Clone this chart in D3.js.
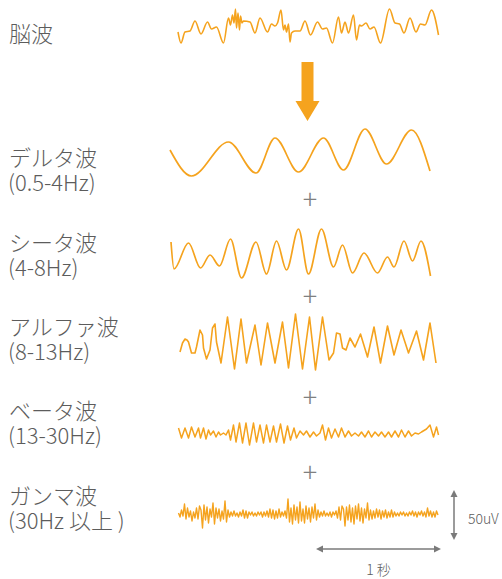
<!DOCTYPE html>
<html><head><meta charset="utf-8">
<script src="https://cdn.jsdelivr.net/npm/d3@7"></script>
<style>body{margin:0;background:#fff}</style>
</head><body>
<svg id="c" width="502" height="579"></svg>
<script>
// ---------------- DATA ----------------
const SAMPLE_RATE = 250; // samples per second; wave points are [sampleIndex, microvolts]
const brainWave = [[16,-5],[22,-16],[30,-5],[40,-4],[50,6],[62,-7],[75,5],[83,-2],[93,0],[107,-16],[117,9],[121,2],[125,12],[128,4],[131,18],[133,-1],[136,14],[139,-3],[141,11],[144,4],[147,6],[160,5],[170,-6],[180,9],[195,-5],[203,3],[210,1],[215,4],[222,17],[227,-3],[230,2],[233,-5],[237,3],[240,-15],[243,-6],[250,-4],[260,-4],[270,6],[281,-8],[295,5],[305,-2],[313,-1],[325,-16],[337,10],[343,-6],[350,5],[357,-6],[367,12],[373,-13],[379,2],[383,1],[392,4],[400,-2],[408,0],[421,-16],[439,18],[450,4],[459,3],[468,-6],[480,9],[492,-5],[501,3],[510,2],[523,17],[537,-8]];
const deltaWave = [[0,3],[43,-23],[117,11],[172,-20],[210,15],[257,-19],[307,15],[347,-17],[390,24],[433,-11],[483,23],[520,-18]];
const thetaWave = [[2,14],[8,-13],[37,13],[61,-12],[80,1],[99,-10],[121,17],[143,-22],[172,14],[193,-18],[213,15],[233,-14],[257,27],[277,-18],[303,27],[327,-11],[345,11],[365,-17],[388,3],[415,-17],[435,-1],[448,-11],[468,15],[485,-5],[502,15],[521,-20]];
const alphaWave = [[20,-9],[25,0],[30,4],[34,3],[37,1],[43,-10],[50,-10],[53,-4],[60,13],[65,8],[67,-5],[73,-16],[80,-7],[85,15],[90,19],[93,1],[102,-20],[115,26],[129,-26],[142,24],[153,-20],[170,18],[182,-22],[195,20],[210,-20],[225,21],[237,-25],[251,29],[265,-26],[279,26],[291,-27],[305,26],[318,-17],[327,-10],[333,10],[340,9],[345,-5],[352,-7],[360,5],[370,-4],[381,9],[395,-14],[408,16],[421,-20],[435,17],[448,-12],[462,13],[477,-10],[493,12],[507,-17],[520,20],[532,-20]];
const betaWave = [[17,6],[23,-4],[30,6],[37,-4],[43,7],[50,-3],[57,6],[61,-4],[67,6],[72,-5],[77,4],[81,-1],[87,3],[92,-3],[97,2],[101,-1],[107,1],[112,-1],[117,4],[121,-6],[127,9],[132,-8],[139,11],[145,-9],[152,11],[159,-11],[167,11],[173,-8],[180,9],[187,-9],[193,9],[200,-8],[207,8],[213,-8],[221,10],[228,-9],[235,8],[241,-6],[248,6],[253,-4],[260,3],[267,-1],[273,3],[280,-3],[287,2],[293,-2],[300,1],[305,9],[311,-6],[317,6],[323,-4],[330,5],[337,-3],[343,6],[350,-3],[357,3],[363,-2],[370,1],[377,-2],[383,2],[390,-3],[397,3],[403,-3],[410,2],[417,-2],[423,2],[430,-3],[437,2],[443,-3],[450,3],[457,-3],[463,4],[470,-3],[477,3],[483,-2],[490,1],[497,0],[503,2],[513,5],[520,9],[527,-3],[533,7],[537,-1]];
const gammaStart = 17, gammaStep = 3; // sample index of first value, samples between values
const gammaValues = [1,-3,4,-2,10,-5,6,-3,3,-7,2,-4,6,-5,8,4,-14,9,-6,7,-9,5,-3,11,-10,6,-4,5,-7,3,-5,13,-8,4,-3,2,-2,3,-2,1,-3,2,-2,4,-4,3,-4,2,-1,2,-2,1,-2,2,-1,2,-3,2,-2,3,-3,5,-4,4,-5,3,-4,5,-3,2,-2,3,-4,15,-8,6,-10,9,-6,7,-9,12,-7,5,-9,8,-5,6,-8,7,-4,10,-6,4,-3,2,-2,3,-2,1,-2,2,-3,2,-1,3,-4,7,-6,8,5,-12,7,-6,9,-8,6,-10,8,-5,10,-7,6,-9,5,-4,11,-6,4,-5,3,-4,5,-3,4,-5,3,-3,4,-4,2,-3,4,-3,2,-2,1,-2,2,-1,2,-2,1,-2,2,-1,3,-2,2,-3,2,-1,3,-2,2,-3,6,-2,3,-3,2,-3,3,-1];
const waveNames = ["脳波","デルタ波","シータ波","アルファ波","ベータ波","ガンマ波"];
const bandLabels = ["","(0.5-4Hz)","(4-8Hz)","(8-13Hz)","(13-30Hz)","(30Hz 以上 )"];
const scaleTimeValue = 1, scaleTimeLabel = "1 秒";
const scaleAmpValue = 50, scaleAmpLabel = "50uV";

// ---------------- LAYOUT ----------------
const svg = d3.select("#c");
const ORANGE = "#F5A31E", GREY = "#5c5c5c", AXISGREY = "#7a7a7a";
const FONT = "'Noto Sans CJK JP','Noto Sans',sans-serif";
const x = d3.scaleLinear().domain([0, 2.2]).range([170, 170 + 2.2 * 125]);
const baselines = [27, 153, 256, 343, 434, 514];
const nameY = [42, 166, 251, 335, 419, 504];
const gammaWave = gammaValues.map((v, i) => [gammaStart + i * gammaStep, v]);
const waves = [brainWave, deltaWave, thetaWave, alphaWave, betaWave, gammaWave];
const curves = [d3.curveMonotoneX, d3.curveMonotoneX, d3.curveMonotoneX, d3.curveLinear, d3.curveLinear, d3.curveLinear];
const widths = [1.6, 1.7, 1.7, 1.6, 1.5, 1.4];

waves.forEach((w, k) => {
  const y = d3.scaleLinear().domain([-50, 50]).range([baselines[k] + 50, baselines[k] - 50]);
  const line = d3.line().x(d => x(d[0] / SAMPLE_RATE)).y(d => y(d[1])).curve(curves[k]);
  svg.append("path").attr("d", line(w)).attr("fill", "none").attr("stroke", ORANGE)
    .attr("stroke-width", widths[k]).attr("stroke-linejoin", "round");
});

// labels (name + band in one text block)
waveNames.forEach((n, k) => {
  const t = svg.append("text").attr("x", 9).attr("y", nameY[k])
    .attr("font-family", FONT).attr("font-size", 22).attr("font-weight", 300).attr("fill", GREY);
  t.append("tspan").attr("x", 9).attr("y", nameY[k]).text(n);
  if (bandLabels[k]) t.append("tspan").attr("x", 8).attr("y", nameY[k] + 25).text(bandLabels[k]);
});

// plus signs
[200, 297, 398, 473].forEach(cy => {
  svg.append("text").attr("x", 310).attr("y", cy + 9).attr("text-anchor", "middle").text("+")
    .attr("font-family", FONT).attr("font-size", 27).attr("font-weight", 300).attr("fill", "#808080");
});

// big orange arrow
const ax = 307.5;
svg.append("path").attr("fill", ORANGE)
  .attr("d", `M${ax-6},62 L${ax+6},62 L${ax+6},101 L${ax+12},101 L${ax},121 L${ax-12},101 L${ax-6},101 Z`);

// amplitude scale arrow (50uV)
const ampY = d3.scaleLinear().domain([-25, 25]).range([540, 490]);
function arrowV(xp, y1, y2) {
  svg.append("line").attr("x1", xp).attr("x2", xp).attr("y1", y1 + 4).attr("y2", y2 - 4)
    .attr("stroke", AXISGREY).attr("stroke-width", 1.5);
  svg.append("path").attr("fill", AXISGREY).attr("d", `M${xp},${y1} L${xp-3.5},${y1+7} L${xp+3.5},${y1+7} Z`);
  svg.append("path").attr("fill", AXISGREY).attr("d", `M${xp},${y2} L${xp-3.5},${y2-7} L${xp+3.5},${y2-7} Z`);
}
arrowV(454, ampY(scaleAmpValue / 2), ampY(-scaleAmpValue / 2));
svg.append("text").attr("x", 468).attr("y", 524).text(scaleAmpLabel)
  .attr("font-family", FONT).attr("font-size", 14).attr("font-weight", 300).attr("fill", GREY);

// time scale arrow (1 s)
const tEnd = 2.168;
const x1 = x(tEnd - scaleTimeValue), x2 = x(tEnd), ty = 549;
svg.append("line").attr("x1", x1 + 4).attr("x2", x2 - 4).attr("y1", ty).attr("y2", ty)
  .attr("stroke", AXISGREY).attr("stroke-width", 1.5);
svg.append("path").attr("fill", AXISGREY).attr("d", `M${x1},${ty} L${x1+7},${ty-3.5} L${x1+7},${ty+3.5} Z`);
svg.append("path").attr("fill", AXISGREY).attr("d", `M${x2},${ty} L${x2-7},${ty-3.5} L${x2-7},${ty+3.5} Z`);
svg.append("text").attr("x", (x1 + x2) / 2).attr("y", 575).attr("text-anchor", "middle").text(scaleTimeLabel)
  .attr("font-family", FONT).attr("font-size", 14).attr("font-weight", 300).attr("fill", GREY);
</script>
</body></html>
